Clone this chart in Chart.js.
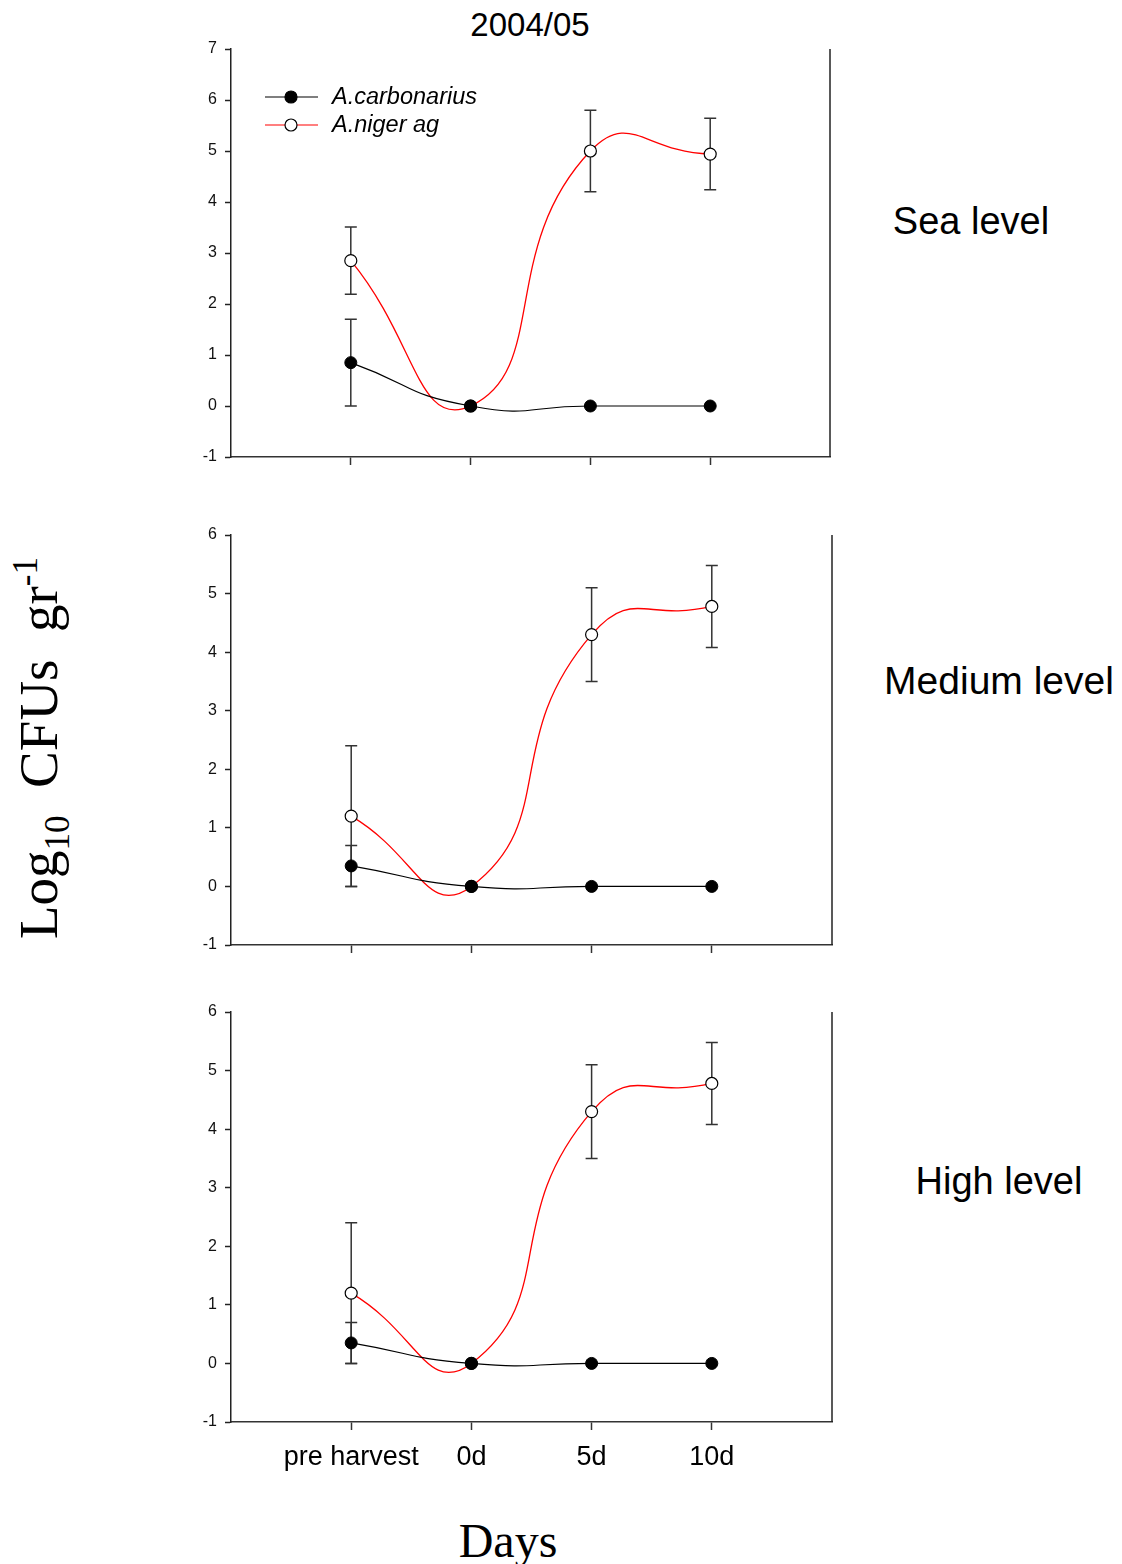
<!DOCTYPE html>
<html>
<head>
<meta charset="utf-8">
<script src="https://cdn.jsdelivr.net/npm/chart.js@4.4.1/dist/chart.umd.min.js"></script>
<style>
  body { margin: 0; background: #fff; width: 1122px; height: 1564px; position: relative; overflow: hidden;
         font-family: "Liberation Sans", Arial, sans-serif; color: #000; }
  .panel { position: absolute; left: 150px; }
  .lbl { position: absolute; transform: translate(-50%, -50%); white-space: nowrap; }
  .serif { font-family: "Liberation Serif", "Times New Roman", serif; }
  #ytitle { position: absolute; left: 42px; top: 748px; transform: translate(-50%, -50%) rotate(-90deg);
            white-space: nowrap; font-size: 55px; }
  #ytitle sub, #ytitle sup { font-size: 35px; }
</style>
</head>
<body>
<div class="lbl" style="left:530px;top:25px;font-size:33px;">2004/05</div>
<div class="lbl" style="left:971px;top:221px;font-size:38px;">Sea level</div>
<div class="lbl" style="left:999px;top:681px;font-size:39px;">Medium level</div>
<div class="lbl" style="left:999px;top:1181px;font-size:38px;">High level</div>
<div class="lbl serif" style="left:508px;top:1540px;font-size:48px;">Days</div>
<div id="ytitle" class="serif">Log<sub>10</sub>&nbsp; CFUs&nbsp; gr<sup>-1</sup></div>

<div class="panel" style="top:29px;"><canvas id="sea" width="700" height="451"></canvas></div>
<div class="panel" style="top:515px;"><canvas id="medium" width="702" height="453"></canvas></div>
<div class="panel" style="top:992px;"><canvas id="high" width="702" height="490"></canvas></div>

<script>
// sampling days (categories) and their positions on the x axis
const days = ['pre harvest', '0d', '5d', '10d'];
const dayPos = [0, 1, 2, 3];

// Sea level
const seaCarb = [0.85, 0, 0, 0];
const seaCarbErr = [0.85, 0, 0, 0];
const seaNiger = [2.85, 0, 5.0, 4.94];
const seaNigerErr = [0.66, 0, 0.8, 0.7];

// Medium level
const medCarb = [0.35, 0, 0, 0];
const medCarbErr = [0.35, 0, 0, 0];
const medNiger = [1.2, 0, 4.3, 4.78];
const medNigerErr = [1.2, 0, 0.8, 0.7];

// High level
const highCarb = [0.35, 0, 0, 0];
const highCarbErr = [0.35, 0, 0, 0];
const highNiger = [1.2, 0, 4.3, 4.78];
const highNigerErr = [1.2, 0, 0.8, 0.7];

const seriesNames = ['A.carbonarius', 'A.niger ag'];

// error bars, drawn under the lines and symbols
const errorBars = {
    id: 'errorBars',
    beforeDatasetsDraw(chart) {
        const ctx = chart.ctx;
        const xs = chart.scales.x, ys = chart.scales.y;
        ctx.save();
        ctx.strokeStyle = '#333';
        ctx.lineWidth = 1.5;
        chart.data.datasets.forEach(ds => {
            ds.data.forEach((p, i) => {
                const e = ds.errors[i];
                if (!e) return;
                const x = xs.getPixelForValue(p.x);
                const top = ys.getPixelForValue(p.y + e);
                const bot = ys.getPixelForValue(p.y - e);
                ctx.beginPath();
                ctx.moveTo(x, top); ctx.lineTo(x, bot);
                ctx.moveTo(x - 6, top); ctx.lineTo(x + 6, top);
                ctx.moveTo(x - 6, bot); ctx.lineTo(x + 6, bot);
                ctx.stroke();
            });
        });
        ctx.restore();
    }
};

// right edge of the frame
const rightEdge = {
    id: 'rightEdge',
    afterDraw(chart) {
        const { ctx, chartArea } = chart;
        ctx.save();
        ctx.strokeStyle = '#222';
        ctx.lineWidth = 1.5;
        ctx.beginPath();
        ctx.moveTo(chartArea.right, chartArea.top);
        ctx.lineTo(chartArea.right, chartArea.bottom);
        ctx.stroke();
        ctx.restore();
    }
};

// legend inside the plot area (top panel only)
const innerLegend = {
    id: 'innerLegend',
    afterDraw(chart, args, opts) {
        if (!opts.show) return;
        const { ctx, chartArea } = chart;
        ctx.save();
        chart.data.datasets.forEach((ds, i) => {
            const y = chartArea.top + 48 + i * 28;
            const x0 = chartArea.left + 34;
            ctx.strokeStyle = ds.borderColor;
            ctx.lineWidth = 1.2;
            ctx.beginPath();
            ctx.moveTo(x0, y); ctx.lineTo(x0 + 53, y);
            ctx.stroke();
            ctx.beginPath();
            ctx.arc(x0 + 26, y, 6, 0, Math.PI * 2);
            ctx.fillStyle = ds.pointBackgroundColor;
            ctx.fill();
            ctx.strokeStyle = '#000';
            ctx.lineWidth = 1.2;
            ctx.stroke();
            ctx.fillStyle = '#000';
            ctx.font = 'italic 23.5px "Liberation Sans", Arial, sans-serif';
            ctx.textBaseline = 'middle';
            ctx.fillText(ds.label, x0 + 67, y);
        });
        ctx.restore();
    }
};

function pts(values) {
    return values.map((v, i) => ({ x: dayPos[i], y: v }));
}

function makePanel(id, carb, carbErr, niger, nigerErr, yMax, showDays, showLegend, xHeight) {
    new Chart(document.getElementById(id), {
        type: 'line',
        data: {
            datasets: [
                {
                    label: seriesNames[0],
                    data: pts(carb),
                    errors: carbErr,
                    borderColor: '#000',
                    borderWidth: 1.2,
                    pointBackgroundColor: '#000',
                    pointBorderColor: '#000',
                    pointRadius: 6,
                    pointBorderWidth: 1,
                    tension: 0.55
                },
                {
                    label: seriesNames[1],
                    data: pts(niger),
                    errors: nigerErr,
                    borderColor: '#ff0000',
                    borderWidth: 1.3,
                    pointBackgroundColor: '#fff',
                    pointBorderColor: '#000',
                    pointRadius: 6,
                    pointBorderWidth: 1.2,
                    tension: 0.55
                }
            ]
        },
        options: {
            responsive: false,
            animation: false,
            layout: { padding: { top: 20, right: 20, left: 0, bottom: 0 } },
            plugins: {
                legend: { display: false },
                tooltip: { enabled: false },
                innerLegend: { show: showLegend }
            },
            scales: {
                x: {
                    type: 'linear',
                    min: -1,
                    max: 4,
                    afterBuildTicks: s => { s.ticks = dayPos.map(v => ({ value: v })); },
                    afterFit: s => { s.height = xHeight; },
                    grid: { display: true, drawOnChartArea: false, drawTicks: true, tickLength: 8, tickColor: '#333', tickWidth: 1.5 },
                    border: { display: true, color: '#333', width: 1.5 },
                    ticks: {
                        display: showDays,
                        padding: 11,
                        maxRotation: 0,
                        autoSkip: false,
                        color: '#000',
                        font: { size: 27, family: '"Liberation Sans", Arial, sans-serif' },
                        callback: v => days[dayPos.indexOf(v)]
                    }
                },
                y: {
                    min: -1,
                    max: yMax,
                    afterFit: s => { s.width = 81; },
                    grid: { display: true, drawOnChartArea: false, drawTicks: true, tickLength: 6, tickColor: '#222', tickWidth: 1.5 },
                    border: { display: true, color: '#222', width: 1.5 },
                    ticks: {
                        stepSize: 1,
                        padding: 8,
                        color: '#111',
                        font: { size: 16, family: '"Liberation Sans", Arial, sans-serif' }
                    }
                }
            }
        },
        plugins: [errorBars, rightEdge, innerLegend]
    });
}

makePanel('sea', seaCarb, seaCarbErr, seaNiger, seaNigerErr, 7, false, true, 23);
makePanel('medium', medCarb, medCarbErr, medNiger, medNigerErr, 6, false, false, 23);
makePanel('high', highCarb, highCarbErr, highNiger, highNigerErr, 6, true, false, 60);
</script>
</body>
</html>
